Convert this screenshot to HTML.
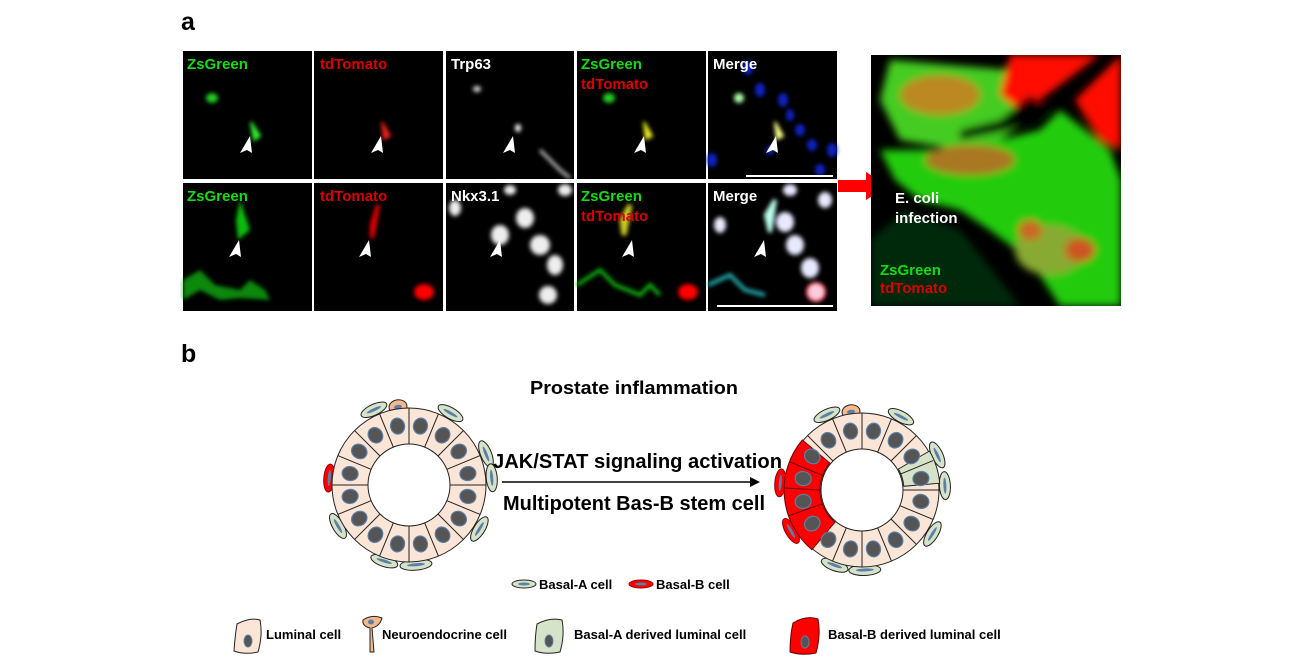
<!DOCTYPE html>
<html><head><meta charset="utf-8"><style>
html,body{margin:0;padding:0;background:#fff;}
svg{display:block;font-family:"Liberation Sans",Arial,sans-serif;}
</style></head><body>
<svg width="1308" height="664" viewBox="0 0 1308 664" xmlns="http://www.w3.org/2000/svg">
<defs>
<filter id="bl" x="-50%" y="-50%" width="200%" height="200%"><feGaussianBlur stdDeviation="2"/></filter>
<filter id="bl4" x="-50%" y="-50%" width="200%" height="200%"><feGaussianBlur stdDeviation="4"/></filter>
<clipPath id="rc"><rect x="871" y="55" width="250" height="251"/></clipPath>
</defs>
<rect width="1308" height="664" fill="#fff"/>
<text x="181" y="30" font-size="25" font-weight="bold">a</text>
<text x="181" y="362" font-size="25" font-weight="bold">b</text>

<g>
<rect x="183" y="51" width="129" height="128" fill="#000"/>
<rect x="314" y="51" width="129" height="128" fill="#000"/>
<rect x="446" y="51" width="128" height="128" fill="#000"/>
<rect x="577" y="51" width="129" height="128" fill="#000"/>
<rect x="708" y="51" width="129" height="128" fill="#000"/>
<rect x="183" y="183" width="129" height="128" fill="#000"/>
<rect x="314" y="183" width="129" height="128" fill="#000"/>
<rect x="446" y="183" width="128" height="128" fill="#000"/>
<rect x="577" y="183" width="129" height="128" fill="#000"/>
<rect x="708" y="183" width="129" height="128" fill="#000"/>
</g>
<g filter="url(#bl)">
<ellipse cx="212" cy="98" rx="6" ry="5" fill="#2c2"/>
<path d="M251 122 L260 136 L254 140 Z" fill="#3e3" stroke="#3e3" stroke-width="2"/>
<path d="M382 122 L390 136 L384 139 Z" fill="#e22" stroke="#e22" stroke-width="2"/>
<ellipse cx="477" cy="89" rx="4" ry="3" fill="#ddd"/>
<ellipse cx="518" cy="128" rx="3" ry="4" fill="#fff"/>
<path d="M540 150 L560 170 L570 178" stroke="#ccc" stroke-width="3" fill="none"/>
<ellipse cx="609" cy="98" rx="6" ry="5" fill="#2c2"/>
<path d="M644 122 L652 136 L646 139 Z" fill="#ee2" stroke="#ee2" stroke-width="2"/>
<g fill="#1020c0"><ellipse cx="748" cy="68" rx="5" ry="7"/><ellipse cx="760" cy="90" rx="5" ry="7"/><ellipse cx="783" cy="100" rx="5" ry="7"/><ellipse cx="790" cy="115" rx="4" ry="6"/><ellipse cx="800" cy="130" rx="5" ry="6"/><ellipse cx="812" cy="145" rx="5" ry="6"/><ellipse cx="832" cy="150" rx="5" ry="7"/><ellipse cx="820" cy="170" rx="5" ry="6"/><ellipse cx="712" cy="160" rx="5" ry="7"/><ellipse cx="770" cy="150" rx="4" ry="5"/></g>
<ellipse cx="739" cy="98" rx="5" ry="5" fill="#afa"/>
<path d="M775 122 L783 136 L777 139 Z" fill="#ff8" stroke="#ff8" stroke-width="2"/>
</g>
<g filter="url(#bl)">
<path d="M240 200 L250 230 L238 240 L236 220 Z" fill="#1b1"/>
<path d="M183 280 L200 270 L215 285 L240 290 L250 280 L265 290 L270 300 L240 298 L220 300 L200 290 L183 300 Z" fill="#1a1" opacity="0.8"/>
<path d="M372 225 L378 205 L372 238 Z" fill="#e00" stroke="#e00" stroke-width="4"/>
<ellipse cx="424" cy="292" rx="10" ry="8" fill="#f00"/>
<g fill="#eee"><ellipse cx="500" cy="235" rx="9" ry="10"/><ellipse cx="525" cy="218" rx="9" ry="10"/><ellipse cx="540" cy="245" rx="10" ry="10"/><ellipse cx="555" cy="265" rx="8" ry="10"/><ellipse cx="548" cy="295" rx="9" ry="9"/><ellipse cx="455" cy="208" rx="6" ry="8"/><ellipse cx="565" cy="190" rx="7" ry="6"/><ellipse cx="510" cy="190" rx="6" ry="5"/></g>
<path d="M622 220 L630 205 L624 235 Z" fill="#dd2" stroke="#cc2" stroke-width="5"/>
<path d="M577 285 L600 270 L615 285 L640 295 L650 285 L660 295" stroke="#1a1" stroke-width="4" fill="none"/>
<ellipse cx="688" cy="292" rx="10" ry="8" fill="#f00"/>
<g fill="#e8e8ff"><ellipse cx="785" cy="222" rx="9" ry="10"/><ellipse cx="795" cy="245" rx="9" ry="10"/><ellipse cx="810" cy="268" rx="9" ry="10"/><ellipse cx="790" cy="190" rx="7" ry="6"/><ellipse cx="720" cy="225" rx="6" ry="8"/><ellipse cx="825" cy="200" rx="7" ry="8"/></g>
<ellipse cx="816" cy="292" rx="9" ry="9" fill="#fcd" stroke="#f24" stroke-width="2"/>
<path d="M766 215 L775 200 L770 232 Z" fill="#bfe" stroke="#bfe" stroke-width="4"/>
<path d="M708 285 L730 275 L745 290 L765 295" stroke="#2aa" stroke-width="4" fill="none"/>
</g>
<g fill="#fff">
<polygon points="250,136 240,153 247,150 252,153"/>
<polygon points="381,136 371,153 378,150 383,153"/>
<polygon points="513,136 503,153 510,150 515,153"/>
<polygon points="644,136 634,153 641,150 646,153"/>
<polygon points="776,136 766,153 773,150 778,153"/>
<polygon points="239,240 229,257 236,254 241,257"/>
<polygon points="369,240 359,257 366,254 371,257"/>
<polygon points="500,240 490,257 497,254 502,257"/>
<polygon points="632,240 622,257 629,254 634,257"/>
<polygon points="764,240 754,257 761,254 766,257"/>
</g>
<rect x="746" y="175" width="87" height="2" fill="#fff"/>
<rect x="717" y="305" width="116" height="2" fill="#fff"/>
<g font-size="15" font-weight="bold">
<text x="187" y="69" fill="#1d1">ZsGreen</text>
<text x="320" y="69" fill="#d00">tdTomato</text>
<text x="451" y="69" fill="#fff">Trp63</text>
<text x="581" y="69" fill="#1d1">ZsGreen</text>
<text x="581" y="89" fill="#d00">tdTomato</text>
<text x="713" y="69" fill="#fff">Merge</text>
<text x="187" y="201" fill="#1d1">ZsGreen</text>
<text x="320" y="201" fill="#d00">tdTomato</text>
<text x="451" y="201" fill="#fff">Nkx3.1</text>
<text x="581" y="201" fill="#1d1">ZsGreen</text>
<text x="581" y="221" fill="#d00">tdTomato</text>
<text x="713" y="201" fill="#fff">Merge</text>
</g>

<polygon points="838,180 866,180 866,172 888,186 866,200 866,192 838,192" fill="#f00"/>

<rect x="871" y="55" width="250" height="251" fill="#000"/>
<g clip-path="url(#rc)">
<g filter="url(#bl4)">
<path d="M890 60 L1010 70 L1040 110 L1000 140 L960 150 L900 140 L880 100 Z" fill="#4c2"/>
<path d="M1010 55 L1100 55 L1080 70 L1040 100 L1020 110 L1000 95 Z" fill="#f10"/>
<path d="M1075 100 L1121 55 L1121 150 L1100 140 Z" fill="#f10"/>
<path d="M880 150 L960 150 L1040 130 L1060 110 L1110 150 L1121 180 L1121 306 L1060 306 L1030 260 L990 230 L960 210 L920 200 L895 180 Z" fill="#2c1"/>
<ellipse cx="940" cy="95" rx="40" ry="20" fill="#b82"/>
<ellipse cx="970" cy="160" rx="45" ry="15" fill="#a72"/>
<ellipse cx="1050" cy="250" rx="35" ry="25" fill="#8a3"/>
<ellipse cx="1080" cy="250" rx="15" ry="12" fill="#c52"/>
<ellipse cx="1030" cy="230" rx="12" ry="10" fill="#c62"/>
<path d="M960 130 L1000 120 L1030 95 L1050 110 L1010 130 L960 140 Z" fill="#000"/>
<path d="M905 210 L960 230 L1000 280 L1020 306 L871 306 L871 240 Z" fill="#041" opacity="0.6"/>
</g>
</g>
<g font-size="15" font-weight="bold">
<text x="895" y="203" fill="#fff">E. coli</text>
<text x="895" y="223" fill="#fff">infection</text>
<text x="880" y="275" fill="#1d1">ZsGreen</text>
<text x="880" y="293" fill="#d00">tdTomato</text>
</g>

<text x="634" y="394" font-size="18" font-weight="bold" text-anchor="middle" textLength="208" lengthAdjust="spacingAndGlyphs">Prostate inflammation</text>
<text x="493" y="468" font-size="20" font-weight="bold" textLength="289" lengthAdjust="spacingAndGlyphs">JAK/STAT signaling activation</text>
<text x="503" y="510" font-size="20" font-weight="bold" textLength="262" lengthAdjust="spacingAndGlyphs">Multipotent Bas-B stem cell</text>
<line x1="502" y1="482" x2="752" y2="482" stroke="#000" stroke-width="1.5"/>
<polygon points="760,482 750,477 750,487" fill="#000"/>

<g transform="translate(409,485)" stroke="#222" stroke-width="1">
<g fill="#d6e3c9">
<g transform="rotate(-115)"><ellipse cx="83" rx="5.5" ry="14"/><ellipse cx="83" rx="1.5" ry="8" fill="#5b7fa6" stroke="none"/></g>
<g transform="rotate(-60)"><ellipse cx="83" rx="5.5" ry="14"/><ellipse cx="83" rx="1.5" ry="8" fill="#5b7fa6" stroke="none"/></g>
<g transform="rotate(-22)"><ellipse cx="83" rx="5.5" ry="14"/><ellipse cx="83" rx="1.5" ry="8" fill="#5b7fa6" stroke="none"/></g>
<g transform="rotate(-5)"><ellipse cx="83" rx="5.5" ry="14"/><ellipse cx="83" rx="1.5" ry="8" fill="#5b7fa6" stroke="none"/></g>
<g transform="rotate(32)"><ellipse cx="83" rx="5.5" ry="14"/><ellipse cx="83" rx="1.5" ry="8" fill="#5b7fa6" stroke="none"/></g>
<g transform="rotate(85)"><ellipse cx="80" rx="5.5" ry="16"/><ellipse cx="80" rx="1.5" ry="9" fill="#5b7fa6" stroke="none"/></g>
<g transform="rotate(108)"><ellipse cx="80" rx="5.5" ry="14"/><ellipse cx="80" rx="1.5" ry="8" fill="#5b7fa6" stroke="none"/></g>
<g transform="rotate(150)"><ellipse cx="82" rx="5.5" ry="14"/><ellipse cx="82" rx="1.5" ry="8" fill="#5b7fa6" stroke="none"/></g>
<g transform="rotate(185)"><ellipse cx="80" rx="5.5" ry="14" fill="#f00" stroke="#900"/><ellipse cx="80" rx="1.5" ry="8" fill="#5b7fa6" stroke="none"/></g>
<g transform="rotate(-98)"><ellipse cx="79" rx="7" ry="9" fill="#f4b98a"/><ellipse cx="79" rx="2" ry="4" fill="#5b7fa6" stroke="none"/></g>
</g>
<circle r="59" fill="none" stroke="#fbe5d6" stroke-width="36"/>
<circle r="77" fill="none"/><circle r="41" fill="#fff"/>
<g id="cl">
<line x1="41" x2="77" transform="rotate(0)"/><line x1="41" x2="77" transform="rotate(22.5)"/><line x1="41" x2="77" transform="rotate(45)"/><line x1="41" x2="77" transform="rotate(67.5)"/><line x1="41" x2="77" transform="rotate(90)"/><line x1="41" x2="77" transform="rotate(112.5)"/><line x1="41" x2="77" transform="rotate(135)"/><line x1="41" x2="77" transform="rotate(157.5)"/><line x1="41" x2="77" transform="rotate(180)"/><line x1="41" x2="77" transform="rotate(202.5)"/><line x1="41" x2="77" transform="rotate(225)"/><line x1="41" x2="77" transform="rotate(247.5)"/><line x1="41" x2="77" transform="rotate(270)"/><line x1="41" x2="77" transform="rotate(292.5)"/><line x1="41" x2="77" transform="rotate(315)"/><line x1="41" x2="77" transform="rotate(337.5)"/>
</g>
<g id="nu" fill="#555" stroke="#5b7fa6" stroke-width="1.2">
<ellipse cx="60" rx="8" ry="7" transform="rotate(11)"/><ellipse cx="60" rx="8" ry="7" transform="rotate(34)"/><ellipse cx="60" rx="8" ry="7" transform="rotate(56)"/><ellipse cx="60" rx="8" ry="7" transform="rotate(79)"/><ellipse cx="60" rx="8" ry="7" transform="rotate(101)"/><ellipse cx="60" rx="8" ry="7" transform="rotate(124)"/><ellipse cx="60" rx="8" ry="7" transform="rotate(146)"/><ellipse cx="60" rx="8" ry="7" transform="rotate(169)"/><ellipse cx="60" rx="8" ry="7" transform="rotate(191)"/><ellipse cx="60" rx="8" ry="7" transform="rotate(214)"/><ellipse cx="60" rx="8" ry="7" transform="rotate(236)"/><ellipse cx="60" rx="8" ry="7" transform="rotate(259)"/><ellipse cx="60" rx="8" ry="7" transform="rotate(281)"/><ellipse cx="60" rx="8" ry="7" transform="rotate(304)"/><ellipse cx="60" rx="8" ry="7" transform="rotate(326)"/><ellipse cx="60" rx="8" ry="7" transform="rotate(349)"/>
</g>
</g>

<g transform="translate(862,490)" stroke="#222" stroke-width="1">
<g fill="#d6e3c9">
<g transform="rotate(-115)"><ellipse cx="83" rx="5.5" ry="14"/><ellipse cx="83" rx="1.5" ry="8" fill="#5b7fa6" stroke="none"/></g>
<g transform="rotate(-62)"><ellipse cx="83" rx="5.5" ry="14"/><ellipse cx="83" rx="1.5" ry="8" fill="#5b7fa6" stroke="none"/></g>
<g transform="rotate(-25)"><ellipse cx="83" rx="5.5" ry="14"/><ellipse cx="83" rx="1.5" ry="8" fill="#5b7fa6" stroke="none"/></g>
<g transform="rotate(-3)"><ellipse cx="83" rx="5.5" ry="14"/><ellipse cx="83" rx="1.5" ry="8" fill="#5b7fa6" stroke="none"/></g>
<g transform="rotate(32)"><ellipse cx="83" rx="5.5" ry="14"/><ellipse cx="83" rx="1.5" ry="8" fill="#5b7fa6" stroke="none"/></g>
<g transform="rotate(88)"><ellipse cx="80" rx="5.5" ry="16"/><ellipse cx="80" rx="1.5" ry="9" fill="#5b7fa6" stroke="none"/></g>
<g transform="rotate(110)"><ellipse cx="80" rx="5.5" ry="14"/><ellipse cx="80" rx="1.5" ry="8" fill="#5b7fa6" stroke="none"/></g>
<g transform="rotate(150)"><ellipse cx="82" rx="5.5" ry="14" fill="#f00" stroke="#900"/><ellipse cx="82" rx="1.5" ry="8" fill="#5b7fa6" stroke="none"/></g>
<g transform="rotate(185)"><ellipse cx="82" rx="5.5" ry="14" fill="#f00" stroke="#900"/><ellipse cx="82" rx="1.5" ry="8" fill="#5b7fa6" stroke="none"/></g>
<g transform="rotate(-98)"><ellipse cx="79" rx="7" ry="9" fill="#f4b98a"/><ellipse cx="79" rx="2" ry="4" fill="#5b7fa6" stroke="none"/></g>
</g>
<circle r="59" fill="none" stroke="#fbe5d6" stroke-width="36"/>
<circle r="77" fill="none"/><circle r="41" fill="#fff"/>
<path d="M67.5,-39 A78,78 0 0 1 77.7,-6.8 L41.8,-3.7 A42,42 0 0 0 36.4,-21 Z" fill="#d6e3c9"/>
<use href="#cl"/>
<path d="M-50.1,59.7 A78,78 0 0 1 -59.7,-50.1 L-32.2,-27 A42,42 0 0 0 -27,32.2 Z" fill="#f00" stroke="#600"/>
<g stroke="#600"><line x1="-42" y1="0" x2="-78" y2="-2"/><line x1="-40" y1="14" x2="-74" y2="26"/><line x1="-38" y1="-14" x2="-72" y2="-28"/></g>
<use href="#nu"/>
</g>

<g stroke="#222" stroke-width="1">
<ellipse cx="524" cy="584" rx="12" ry="4" fill="#d6e3c9"/><ellipse cx="524" cy="584" rx="6" ry="1.5" fill="#5b7fa6" stroke="none"/>
<ellipse cx="641" cy="584" rx="12" ry="4" fill="#f00" stroke="#900"/><ellipse cx="641" cy="584" rx="6" ry="1.5" fill="#5b7fa6" stroke="none"/>
<path d="M237 624 Q250 617 260 620 Q263 635 258 652 Q245 655 234 651 Q235 636 237 624 Z" fill="#fbe5d6"/>
<ellipse cx="248" cy="641" rx="4" ry="6" fill="#555" stroke="#5b7fa6"/>
<path d="M363 620 Q372 614 382 618 Q380 626 372 628 L374 652 L370 652 L370 628 Q362 626 363 620 Z" fill="#f4b98a"/>
<ellipse cx="371" cy="622" rx="3" ry="2.5" fill="#5b7fa6" stroke="none"/>
<path d="M537 624 Q550 617 562 620 Q565 635 560 652 Q546 655 535 651 Q535 636 537 624 Z" fill="#d6e3c9"/>
<ellipse cx="549" cy="641" rx="4" ry="6" fill="#555" stroke="#5b7fa6"/>
<path d="M793 623 Q806 615 818 619 Q821 635 816 653 Q802 656 790 652 Q790 636 793 623 Z" fill="#f00" stroke="#600"/>
<ellipse cx="805" cy="642" rx="4" ry="6" fill="#555" stroke="#5b7fa6"/>
</g>
<g font-size="13" font-weight="bold">
<text x="539" y="589">Basal-A cell</text>
<text x="656" y="589">Basal-B cell</text>
<text x="266" y="639">Luminal cell</text>
<text x="382" y="639">Neuroendocrine cell</text>
<text x="574" y="639">Basal-A derived luminal cell</text>
<text x="828" y="639">Basal-B derived luminal cell</text>
</g>
</svg>
</body></html>
